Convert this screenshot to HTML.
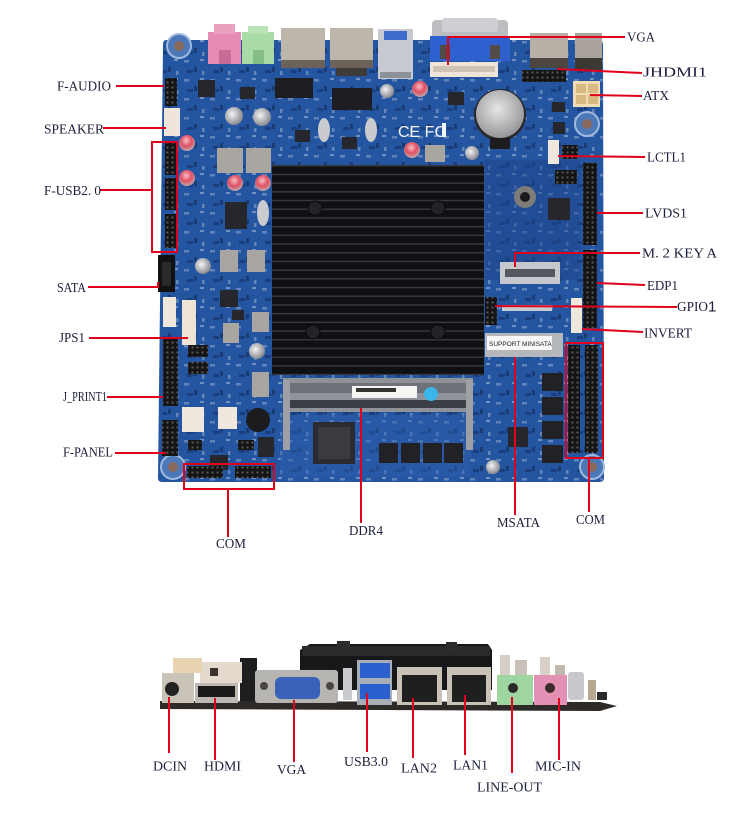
<!DOCTYPE html>
<html><head><meta charset="utf-8">
<style>
html,body{margin:0;padding:0;background:#fff;}
svg{display:block}
.l{font-family:"Liberation Serif",serif;fill:#1b1e38;font-size:14px}
</style></head><body>
<svg width="745" height="829" viewBox="0 0 745 829" xmlns="http://www.w3.org/2000/svg">
<defs>
<pattern id="fins" x="0" y="165" width="20" height="8.7" patternUnits="userSpaceOnUse">
 <rect width="20" height="8.7" fill="#101013"/>
 <rect y="0" width="20" height="1.5" fill="#36383d"/>
</pattern>
<pattern id="pins" width="5" height="5" patternUnits="userSpaceOnUse">
 <rect width="5" height="5" fill="#141414"/>
 <rect x="1.5" y="1.5" width="2" height="2" fill="#5a5a5a"/>
</pattern>
<pattern id="smd" width="26" height="19" patternUnits="userSpaceOnUse">
 <rect x="2" y="3" width="5" height="2.5" fill="#9fb4d6" opacity=".5"/>
 <rect x="12" y="10" width="3" height="5" fill="#152a55" opacity=".6"/>
 <rect x="18" y="2" width="4" height="2" fill="#d0d8e8" opacity=".45"/>
 <rect x="5" y="13" width="6" height="3" fill="#142c60" opacity=".55"/>
 <rect x="20" y="14" width="2.5" height="4" fill="#b0bed6" opacity=".45"/>
</pattern>
<radialGradient id="cap" cx=".4" cy=".4" r=".65"><stop offset="0" stop-color="#f4f4f4"/><stop offset="1" stop-color="#7f8289"/></radialGradient>
<radialGradient id="rcap" cx=".45" cy=".35" r=".7"><stop offset="0" stop-color="#f7c0c6"/><stop offset=".5" stop-color="#e04f62"/><stop offset="1" stop-color="#b5b8bd"/></radialGradient>
<radialGradient id="bat" cx=".45" cy=".4" r=".7"><stop offset="0" stop-color="#e6e6e6"/><stop offset="1" stop-color="#8a8a8e"/></radialGradient>
</defs>

<!-- ================= TOP BOARD ================= -->
<path d="M166,40 L599,40 Q603,40 603,45 L604,478 Q604,482 599,482 L162,482 Q158,482 158,478 L163,45 Q163,40 166,40 Z" fill="#2455a1"/>
<rect x="163" y="40" width="440" height="442" fill="url(#smd)"/>
<!-- lighter/darker regions -->
<rect x="485" y="160" width="95" height="120" fill="#1d468c" opacity=".5"/>
<rect x="280" y="415" width="190" height="62" fill="#2c60ad" opacity=".45"/>

<!-- mounting holes -->
<g fill="#4d78b8" stroke="#9fb8de" stroke-width="2">
<circle cx="179" cy="46" r="12"/><circle cx="173" cy="467" r="12"/>
<circle cx="587" cy="124" r="12"/><circle cx="592" cy="467" r="12"/>
</g>
<g fill="#8b6a5e"><circle cx="179" cy="46" r="5"/><circle cx="173" cy="467" r="5"/><circle cx="587" cy="124" r="5"/><circle cx="592" cy="467" r="5"/></g>
<circle cx="493" cy="467" r="7" fill="url(#cap)"/>

<!-- top I/O connectors -->
<rect x="208" y="32" width="33" height="32" fill="#e68cb3"/>
<rect x="214" y="24" width="21" height="10" fill="#eaa0bf"/>
<rect x="219" y="50" width="12" height="14" fill="#c96b96"/>
<rect x="242" y="32" width="32" height="32" fill="#a9dba7"/>
<rect x="248" y="26" width="20" height="8" fill="#b9e3b6"/>
<rect x="253" y="50" width="11" height="14" fill="#86bf86"/>
<rect x="281" y="28" width="44" height="34" fill="#bdb6aa"/>
<rect x="281" y="60" width="44" height="8" fill="#6d6259"/>
<rect x="330" y="28" width="43" height="34" fill="#bdb6aa"/>
<rect x="330" y="60" width="43" height="8" fill="#6d6259"/>
<rect x="336" y="68" width="31" height="8" fill="#3e3a3a"/>
<rect x="378" y="29" width="35" height="50" fill="#c7cbd1"/>
<rect x="384" y="31" width="23" height="9" fill="#3d6ccc"/>
<rect x="380" y="72" width="31" height="6" fill="#8d929a"/>
<rect x="432" y="20" width="76" height="18" rx="4" fill="#bdbdc1"/>
<rect x="442" y="18" width="56" height="14" rx="3" fill="#cfcfd3"/>
<rect x="430" y="36" width="80" height="25" fill="#2f60cf"/>
<rect x="440" y="45" width="10" height="14" fill="#524a44"/>
<rect x="490" y="45" width="10" height="14" fill="#524a44"/>
<rect x="430" y="62" width="68" height="15" fill="#eee4d8"/>
<rect x="433" y="66" width="62" height="6" fill="#cfc3b4"/>
<rect x="530" y="33" width="38" height="28" fill="#b8b0a7"/>
<rect x="530" y="58" width="38" height="10" fill="#4d4540"/>
<rect x="575" y="33" width="27" height="28" fill="#aaa49c"/>
<rect x="575" y="58" width="27" height="12" fill="#3d3834"/>
<rect x="522" y="70" width="44" height="12" fill="url(#pins)"/>
<rect x="573" y="81" width="27" height="26" fill="#f1dcb4"/>
<g fill="#d9b982"><rect x="576" y="84" width="10" height="9"/><rect x="588" y="84" width="10" height="9"/><rect x="576" y="95" width="10" height="9"/><rect x="588" y="95" width="10" height="9"/></g>

<!-- battery -->
<circle cx="500" cy="115" r="26" fill="#2a2a2e"/>
<circle cx="500" cy="114" r="24" fill="url(#bat)"/>
<rect x="490" y="138" width="20" height="11" fill="#1c1c1c"/>

<!-- transformers/chips top -->
<rect x="275" y="78" width="38" height="20" fill="#1d1d22"/>
<rect x="332" y="88" width="40" height="22" fill="#1d1d22"/>
<g fill="#26272c">
<rect x="198" y="80" width="17" height="17"/><rect x="240" y="87" width="15" height="12"/>
<rect x="295" y="130" width="15" height="12"/><rect x="342" y="137" width="15" height="12"/>
<rect x="448" y="92" width="16" height="13"/><rect x="552" y="102" width="13" height="10"/>
<rect x="553" y="122" width="12" height="12"/><rect x="225" y="202" width="22" height="27"/>
<rect x="220" y="290" width="18" height="17"/><rect x="548" y="198" width="22" height="22"/>
<rect x="508" y="427" width="20" height="20"/><rect x="210" y="455" width="18" height="15"/>
<rect x="258" y="437" width="16" height="20"/><rect x="232" y="310" width="12" height="10"/>
</g>
<text x="398" y="137" font-family="Liberation Sans,sans-serif" font-size="16" fill="#f2f4f8">CE FC</text>
<rect x="442" y="123" width="4" height="14" fill="#f2f4f8"/>

<!-- caps -->
<g fill="url(#cap)">
<circle cx="234" cy="116" r="9"/><circle cx="262" cy="117" r="9"/>
<circle cx="472" cy="153" r="7"/><circle cx="387" cy="91" r="7"/>
<circle cx="203" cy="266" r="8"/><circle cx="257" cy="351" r="8"/>
</g>
<g fill="url(#rcap)">
<circle cx="187" cy="143" r="8"/><circle cx="187" cy="178" r="8"/>
<circle cx="235" cy="183" r="8"/><circle cx="263" cy="183" r="8"/>
<circle cx="420" cy="89" r="8"/><circle cx="412" cy="150" r="8"/>
</g>
<g fill="#c9cbcf">
<ellipse cx="324" cy="130" rx="6" ry="12"/><ellipse cx="371" cy="130" rx="6" ry="12"/>
<ellipse cx="263" cy="213" rx="6" ry="13"/>
</g>
<!-- inductors -->
<g fill="#a9a5a0">
<rect x="217" y="148" width="26" height="25"/><rect x="246" y="148" width="25" height="25"/>
<rect x="220" y="250" width="18" height="22"/><rect x="247" y="250" width="18" height="22"/>
<rect x="252" y="312" width="17" height="20"/><rect x="223" y="323" width="16" height="20"/>
<rect x="252" y="372" width="17" height="25"/><rect x="425" y="145" width="20" height="17"/>
</g>

<!-- left headers -->
<rect x="165" y="78" width="12" height="28" fill="url(#pins)"/>
<rect x="164" y="108" width="16" height="28" fill="#efe5da"/>
<rect x="165" y="143" width="12" height="32" fill="url(#pins)"/>
<rect x="165" y="178" width="12" height="32" fill="url(#pins)"/>
<rect x="165" y="214" width="12" height="34" fill="url(#pins)"/>
<rect x="158" y="255" width="17" height="37" fill="#111"/>
<rect x="162" y="262" width="9" height="24" fill="#2a2a2a"/>
<rect x="163" y="297" width="13" height="30" fill="#efe6dc"/>
<rect x="182" y="300" width="14" height="45" fill="#efe3d4"/>
<rect x="163" y="338" width="15" height="68" fill="url(#pins)"/>
<rect x="162" y="420" width="16" height="36" fill="url(#pins)"/>
<rect x="182" y="407" width="22" height="25" fill="#f0e8de"/>
<rect x="218" y="407" width="19" height="22" fill="#f0e8de"/>
<circle cx="258" cy="420" r="12" fill="#1c1c1e"/>
<rect x="187" y="466" width="36" height="12" fill="url(#pins)"/>
<rect x="235" y="466" width="36" height="12" fill="url(#pins)"/>
<rect x="188" y="345" width="20" height="12" fill="url(#pins)"/>
<rect x="188" y="362" width="20" height="12" fill="url(#pins)"/>
<rect x="188" y="440" width="14" height="10" fill="url(#pins)"/>
<rect x="238" y="440" width="16" height="10" fill="url(#pins)"/>

<!-- heatsink -->
<rect x="272" y="165" width="212" height="210" fill="url(#fins)"/>
<g fill="#222326" stroke="#0a0a0a" stroke-width="1">
<circle cx="315" cy="208" r="7"/><circle cx="438" cy="208" r="7"/>
<circle cx="313" cy="332" r="7"/><circle cx="438" cy="332" r="7"/>
</g>

<!-- DIMM -->
<rect x="283" y="378" width="190" height="34" fill="#8f9298"/>
<rect x="290" y="383" width="176" height="10" fill="#6e7178"/>
<rect x="290" y="400" width="176" height="8" fill="#3c3e45"/>
<rect x="352" y="386" width="65" height="12" fill="#f5f5f5"/>
<g fill="#333"><rect x="356" y="388" width="40" height="4"/></g>
<circle cx="431" cy="394" r="7" fill="#3bb6e8"/>
<rect x="283" y="380" width="7" height="70" fill="#9ea0a6"/>
<rect x="466" y="380" width="7" height="70" fill="#9ea0a6"/>
<rect x="313" y="422" width="42" height="42" fill="#2a2a30"/>
<rect x="318" y="427" width="32" height="32" fill="#3a3a40"/>
<g fill="#222226">
<rect x="379" y="443" width="19" height="20"/><rect x="401" y="443" width="19" height="20"/>
<rect x="423" y="443" width="19" height="20"/><rect x="444" y="443" width="19" height="20"/>
<rect x="542" y="373" width="21" height="18"/><rect x="542" y="397" width="21" height="18"/>
<rect x="542" y="421" width="21" height="18"/><rect x="542" y="445" width="21" height="18"/>
</g>

<!-- right side -->
<circle cx="525" cy="197" r="11" fill="#7e7c78"/><circle cx="525" cy="197" r="5" fill="#1a1a1a"/>
<rect x="548" y="140" width="11" height="24" fill="#efe6dc"/>
<rect x="562" y="145" width="16" height="14" fill="url(#pins)"/>
<rect x="555" y="170" width="22" height="14" fill="url(#pins)"/>
<rect x="583" y="163" width="14" height="82" fill="url(#pins)"/>
<rect x="583" y="250" width="14" height="78" fill="url(#pins)"/>
<rect x="500" y="262" width="60" height="22" fill="#c5c8cc"/>
<rect x="505" y="269" width="50" height="8" fill="#55585f"/>
<rect x="485" y="297" width="12" height="28" fill="url(#pins)"/>
<rect x="502" y="305" width="50" height="6" fill="#c7cad0"/>
<rect x="571" y="298" width="11" height="35" fill="#efe6dc"/>
<rect x="485" y="333" width="78" height="24" fill="#b4b7bc"/>
<rect x="487" y="336" width="65" height="14" fill="#f7f7f7"/>
<text x="489" y="346" font-family="Liberation Sans,sans-serif" font-size="6.5" fill="#222">SUPPORT MINISATA</text>
<rect x="568" y="345" width="12" height="108" fill="url(#pins)"/>
<rect x="585" y="345" width="13" height="108" fill="url(#pins)"/>

<!-- ================= RED CALLOUTS (top) ================= -->
<g stroke="#e0001b" stroke-width="2" fill="none">
<line x1="116" y1="86" x2="164" y2="86"/>
<line x1="103" y1="128" x2="166" y2="128"/>
<rect x="152" y="142" width="25" height="110"/>
<line x1="100" y1="190" x2="152" y2="190"/>
<polyline points="88,287 158,287 158,282"/>
<line x1="89" y1="338" x2="188" y2="338"/>
<line x1="107" y1="397" x2="163" y2="397"/>
<line x1="115" y1="453" x2="166" y2="453"/>
<rect x="184" y="464" width="90" height="25"/>
<line x1="228" y1="489" x2="228" y2="537"/>
<line x1="361" y1="408" x2="361" y2="523"/>
<line x1="515" y1="357" x2="515" y2="515"/>
<rect x="566" y="343" width="37" height="115"/>
<line x1="589" y1="458" x2="589" y2="512"/>
<polyline points="448,65 448,37 625,37"/>
<line x1="557" y1="69" x2="642" y2="73"/>
<line x1="590" y1="95" x2="642" y2="96"/>
<line x1="558" y1="156" x2="645" y2="157"/>
<line x1="597" y1="213" x2="643" y2="213"/>
<polyline points="515,267 515,253 640,253"/>
<line x1="597" y1="283" x2="645" y2="285"/>
<line x1="495" y1="306" x2="677" y2="307"/>
<line x1="582" y1="329" x2="643" y2="332"/>
</g>

<!-- labels top -->
<text class="l" x="57" y="90.5" textLength="54" lengthAdjust="spacingAndGlyphs">F-AUDIO</text>
<text class="l" x="44" y="133.5" textLength="60" lengthAdjust="spacingAndGlyphs">SPEAKER</text>
<text class="l" x="44" y="195" textLength="57" lengthAdjust="spacingAndGlyphs">F-USB2. 0</text>
<text class="l" x="57" y="292" textLength="29" lengthAdjust="spacingAndGlyphs">SATA</text>
<text class="l" x="59" y="342" textLength="26" lengthAdjust="spacingAndGlyphs">JPS1</text>
<text class="l" x="63" y="401" textLength="44" lengthAdjust="spacingAndGlyphs">J_PRINT1</text>
<text class="l" x="63" y="456.5" textLength="50" lengthAdjust="spacingAndGlyphs">F-PANEL</text>
<text class="l" x="216" y="548" textLength="30" lengthAdjust="spacingAndGlyphs">COM</text>
<text class="l" x="349" y="535" textLength="34" lengthAdjust="spacingAndGlyphs">DDR4</text>
<text class="l" x="497" y="527" textLength="43" lengthAdjust="spacingAndGlyphs">MSATA</text>
<text class="l" x="576" y="524" textLength="29" lengthAdjust="spacingAndGlyphs">COM</text>
<text class="l" x="627" y="41.5" textLength="28" lengthAdjust="spacingAndGlyphs">VGA</text>
<text class="l" x="643" y="76.5" textLength="64" lengthAdjust="spacingAndGlyphs">JHDMI1</text>
<text class="l" x="643" y="100" textLength="26" lengthAdjust="spacingAndGlyphs">ATX</text>
<text class="l" x="647" y="161.5" textLength="39" lengthAdjust="spacingAndGlyphs">LCTL1</text>
<text class="l" x="645" y="217.5" textLength="42" lengthAdjust="spacingAndGlyphs">LVDS1</text>
<text class="l" x="642" y="257.5" textLength="75" lengthAdjust="spacingAndGlyphs">M. 2  KEY  A</text>
<text class="l" x="647" y="290" textLength="31" lengthAdjust="spacingAndGlyphs">EDP1</text>
<text class="l" x="677" y="311" textLength="31" lengthAdjust="spacingAndGlyphs">GPIO</text>
<text x="708" y="311.5" font-family="Liberation Sans,sans-serif" font-size="15" fill="#1b1e38">1</text>
<text class="l" x="644" y="337.5" textLength="48" lengthAdjust="spacingAndGlyphs">INVERT</text>

<!-- ================= BOTTOM I/O VIEW ================= -->
<!-- background components -->
<rect x="240" y="658" width="17" height="44" fill="#1e1e20"/>
<rect x="200" y="662" width="42" height="21" fill="#e3d9cc"/>
<rect x="210" y="668" width="8" height="8" fill="#3a3430"/>
<polygon points="300,650 310,644 488,644 492,650 492,690 300,690" fill="#18181a"/>
<rect x="302" y="646" width="188" height="10" fill="#2a2a2d"/>
<rect x="337" y="641" width="13" height="7" fill="#2c2c2e"/>
<rect x="446" y="642" width="11" height="9" fill="#2c2c2e"/>
<rect x="500" y="655" width="10" height="22" fill="#d6cfc6"/>
<rect x="515" y="660" width="12" height="17" fill="#c9c1b8"/>
<rect x="540" y="657" width="10" height="20" fill="#d8d0c6"/>
<rect x="555" y="665" width="10" height="12" fill="#c0b7ad"/>
<rect x="568" y="672" width="16" height="28" rx="3" fill="#c7c9cd"/>
<rect x="588" y="680" width="8" height="20" fill="#b8a890"/>
<rect x="597" y="692" width="10" height="8" fill="#2a2a2a"/>
<!-- board edge -->
<polygon points="160,701 600,702 617,706 600,711 160,709" fill="#2e2a28"/>
<!-- DC jack -->
<rect x="173" y="658" width="29" height="15" fill="#e8d3b2"/>
<rect x="162" y="673" width="32" height="30" fill="#c9c3b8"/>
<circle cx="172" cy="689" r="7" fill="#222"/>
<!-- HDMI -->
<rect x="195" y="683" width="43" height="20" fill="#bdb8b2"/>
<rect x="198" y="686" width="37" height="11" fill="#1a1a1a"/>
<!-- VGA -->
<rect x="255" y="670" width="83" height="33" rx="3" fill="#b7b5b2"/>
<rect x="275" y="677" width="45" height="22" rx="6" fill="#3a63b8"/>
<circle cx="264" cy="686" r="4" fill="#4a4642"/>
<circle cx="330" cy="686" r="4" fill="#4a4642"/>
<!-- USB3 -->
<rect x="343" y="668" width="9" height="32" fill="#c9cbcf"/>
<rect x="357" y="660" width="35" height="45" fill="#a9adb5"/>
<rect x="360" y="663" width="30" height="15" fill="#2a5fd0"/>
<rect x="360" y="684" width="30" height="15" fill="#2a5fd0"/>
<!-- LAN -->
<rect x="397" y="667" width="45" height="38" fill="#c9c3b7"/>
<rect x="402" y="675" width="35" height="27" fill="#1f1f1f"/>
<rect x="447" y="667" width="44" height="38" fill="#c9c3b7"/>
<rect x="452" y="675" width="34" height="27" fill="#1f1f1f"/>
<!-- audio -->
<rect x="497" y="675" width="36" height="30" fill="#9fd5a1"/>
<circle cx="513" cy="688" r="5" fill="#2a2a2a"/>
<rect x="534" y="675" width="33" height="30" fill="#e48fb4"/>
<circle cx="550" cy="688" r="5" fill="#3a2a2a"/>

<!-- red callouts bottom -->
<g stroke="#e0001b" stroke-width="2" fill="none">
<line x1="169" y1="697" x2="169" y2="753"/>
<line x1="215" y1="698" x2="215" y2="760"/>
<line x1="294" y1="700" x2="294" y2="762"/>
<line x1="367" y1="693" x2="367" y2="752"/>
<line x1="413" y1="698" x2="413" y2="758"/>
<line x1="465" y1="695" x2="465" y2="755"/>
<line x1="512" y1="697" x2="512" y2="773"/>
<line x1="559" y1="698" x2="559" y2="760"/>
</g>
<text class="l" x="153" y="770.7" textLength="34" lengthAdjust="spacingAndGlyphs">DCIN</text>
<text class="l" x="204" y="770.7" textLength="37" lengthAdjust="spacingAndGlyphs">HDMI</text>
<text class="l" x="277" y="774" textLength="29" lengthAdjust="spacingAndGlyphs">VGA</text>
<text class="l" x="344" y="766" textLength="44" lengthAdjust="spacingAndGlyphs">USB3.0</text>
<text class="l" x="401" y="772.7" textLength="36" lengthAdjust="spacingAndGlyphs">LAN2</text>
<text class="l" x="453" y="769.3" textLength="35" lengthAdjust="spacingAndGlyphs">LAN1</text>
<text class="l" x="477" y="791.7" textLength="65" lengthAdjust="spacingAndGlyphs">LINE-OUT</text>
<text class="l" x="535" y="770.7" textLength="46" lengthAdjust="spacingAndGlyphs">MIC-IN</text>
</svg>
</body></html>
